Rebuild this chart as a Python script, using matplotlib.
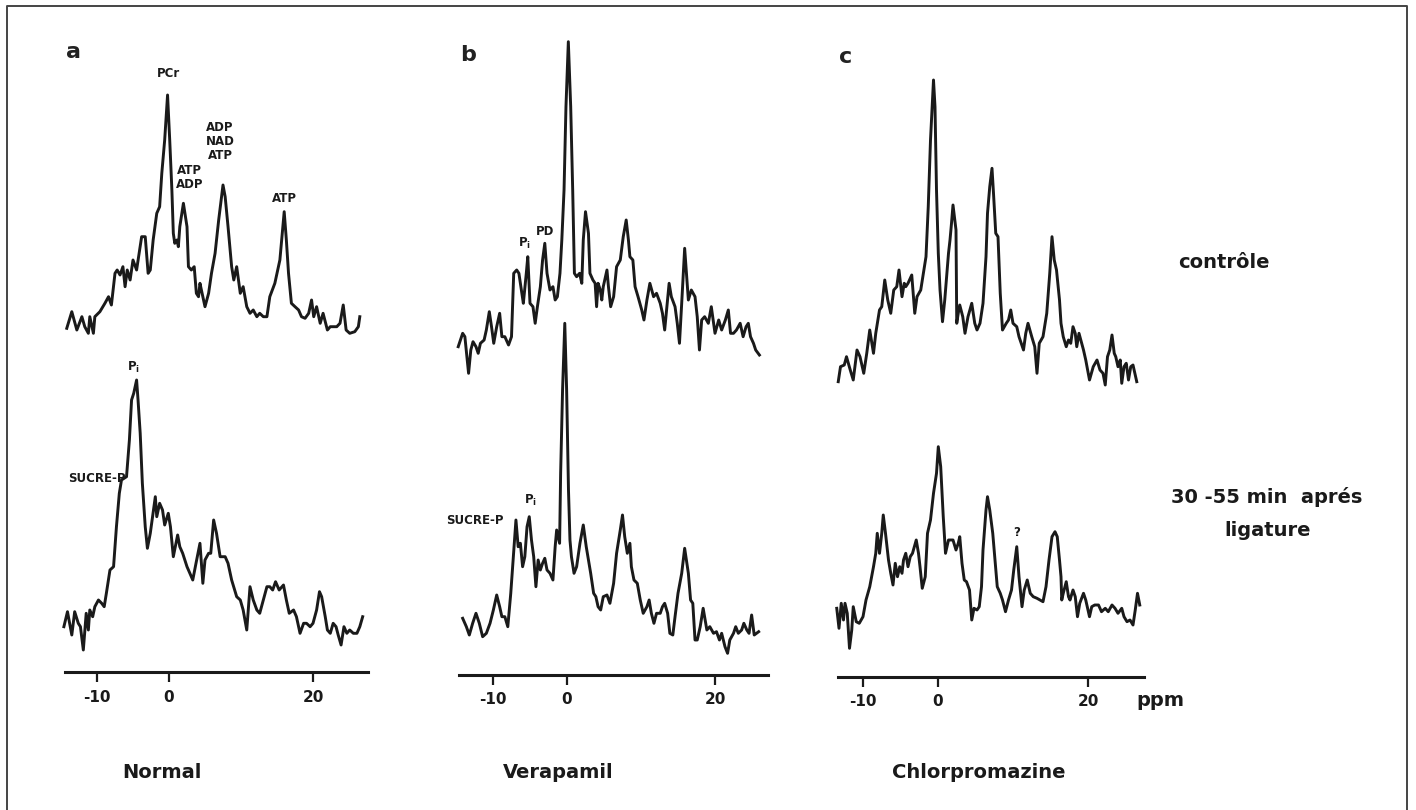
import matplotlib
matplotlib.use("Agg")
import matplotlib.pyplot as plt
from matplotlib.lines import Line2D

# ---- spectra: chemical shift (ppm) and relative intensity ----
a_ctrl_ppm = [-14.2, -13.5, -12.8, -12.1, -11.7, -11.2, -11.0, -10.5, -10.3, -9.6, -8.9, -8.4, -8.0,
              -7.5, -7.2, -6.8, -6.4, -6.1, -5.8, -5.4, -5.0, -4.5, -3.8, -3.3, -2.9, -2.6, -2.2,
              -1.7, -1.3, -1.0, -0.6, -0.2, 0.1, 0.4, 0.6, 0.8, 1.1, 1.3, 1.5, 2.0, 2.5, 2.7, 3.1,
              3.5, 3.8, 4.1, 4.3, 4.5, 5.0, 5.5, 5.9, 6.4, 6.9, 7.5, 7.8, 8.2, 8.7, 9.0, 9.4, 9.9,
              10.3, 10.8, 11.25, 11.7, 12.2, 12.6, 13.1, 13.6, 14.0, 14.7, 15.4, 16.0, 16.3, 16.6,
              17.0, 17.5, 18.0, 18.4, 18.9, 19.4, 19.8, 20.1, 20.5, 21.0, 21.4, 22.0, 22.4, 22.8,
              23.3, 23.75, 24.2, 24.6, 25.1, 25.8, 26.3, 26.5]
a_ctrl_int = [0.67, 2.33, 0.5, 1.83, 0.83, 0.17, 1.83, 0.17, 1.83, 2.33, 3.17, 3.83, 3.0,
              6.17, 6.5, 6.0, 6.83, 4.83, 6.5, 5.5, 7.5, 6.5, 9.83, 9.83, 6.17, 6.5, 9.5,
              12.17, 12.83, 16.17, 19.5, 24.0, 19.5, 14.5, 10.17, 9.17, 9.5, 8.83, 10.83, 13.17, 10.83, 6.83, 6.5,
              6.83, 4.17, 3.83, 5.17, 4.5, 2.83, 4.17, 6.17, 8.17, 11.5, 15.0, 13.83, 10.83, 6.83, 5.5, 6.83, 4.17,
              4.83, 2.83, 2.17, 2.5, 1.83, 2.17, 1.83, 1.83, 3.83, 5.17, 7.5, 12.33, 9.5, 6.17,
              3.17, 2.83, 2.5, 1.83, 1.67, 2.17, 3.5, 1.83, 2.83, 1.17, 2.17, 0.5, 0.83, 0.83,
              0.83, 1.17, 3.0, 0.5, 0.17, 0.33, 0.83, 1.83]

a_lig_ppm = [-14.6, -14.1, -13.5, -13.1, -12.6, -12.3, -11.9, -11.5, -11.2, -11.0, -10.6, -10.3, -9.8,
             -9.35, -9.0, -8.7, -8.2, -7.7, -7.3, -6.9, -6.6, -5.9, -5.5, -5.2, -4.9, -4.5, -4.3,
             -4.0, -3.7, -3.3, -3.0, -2.6, -1.9, -1.7, -1.3, -0.9, -0.6, -0.1, 0.2, 0.6, 1.2, 1.5,
             1.9, 2.5, 2.9, 3.3, 3.75, 4.3, 4.7, 5.0, 5.5, 5.8, 6.2, 6.6, 7.1, 7.8, 8.2, 8.7, 9.4,
             9.9, 10.3, 10.8, 11.25, 11.7, 12.2, 12.6, 13.1, 13.6, 14.0, 14.4, 14.8, 15.3, 15.9,
             16.3, 16.7, 17.3, 17.7, 18.2, 18.7, 19.1, 19.6, 20.0, 20.5, 20.9, 21.2, 21.7, 22.0,
             22.4, 22.8, 23.2, 23.5, 23.9, 24.3, 24.7, 25.1, 25.6, 26.1, 26.5, 26.9]
a_lig_int = [2.33, 3.83, 1.5, 3.83, 2.67, 2.33, 0.0, 3.67, 2.0, 4.0, 3.33, 4.33, 5.0,
             4.67, 4.33, 5.67, 8.0, 8.33, 12.33, 15.67, 17.0, 17.33, 21.0, 25.0, 25.67, 27.0, 25.0,
             21.67, 16.67, 12.33, 10.17, 11.67, 15.33, 13.33, 14.67, 14.0, 12.5, 13.67, 12.33, 9.33, 11.5, 10.33,
             9.67, 8.33, 7.67, 7.0, 8.67, 10.67, 6.67, 9.0, 9.67, 9.67, 13.0, 11.67, 9.33, 9.33, 8.67, 7.0, 5.33,
             5.0, 4.0, 2.0, 6.33, 5.0, 4.0, 3.67, 5.0, 6.33, 6.33, 6.0, 6.83, 6.0, 6.5,
             5.0, 3.67, 4.0, 3.33, 1.67, 2.67, 2.67, 2.33, 2.67, 4.0, 5.83, 5.33, 3.33, 2.0,
             1.67, 2.67, 2.33, 1.5, 0.5, 2.33, 1.67, 2.0, 1.67, 1.67, 2.33, 3.33]

b_ctrl_ppm = [-14.7, -14.1, -13.8, -13.3, -13.0, -12.7, -12.3, -12.0, -11.7, -11.2, -10.9, -10.5, -10.2,
              -9.9, -9.5, -9.1, -8.8, -8.4, -7.9, -7.5, -7.2, -6.8, -6.5, -6.1, -5.9, -5.5, -5.3,
              -5.0, -4.6, -4.3, -4.0, -3.6, -3.3, -3.0, -2.7, -2.3, -1.9, -1.6, -1.3, -0.95, -0.7,
              -0.4, -0.14, 0.18, 0.5, 0.77, 1.0, 1.3, 1.7, 2.0, 2.2, 2.5, 2.9, 3.1, 3.5, 3.8, 4.0,
              4.2, 4.5, 4.7, 4.9, 5.4, 5.6, 5.9, 6.3, 6.7, 7.2, 7.6, 8.0, 8.3, 8.5, 8.9, 9.2, 9.6,
              10.1, 10.4, 10.8, 11.2, 11.7, 12.1, 12.6, 12.9, 13.2, 13.8, 14.1, 14.6, 14.9, 15.2,
              15.5, 15.9, 16.4, 16.8, 17.3, 17.6, 17.9, 18.2, 18.6, 19.1, 19.5, 20.0, 20.5, 20.9,
              21.4, 21.8, 22.1, 22.5, 22.9, 23.4, 23.8, 24.2, 24.5, 24.8, 25.2, 25.5, 26.0]
b_ctrl_int = [-0.17, 1.17, 0.83, -2.83, -0.5, 0.33, -0.17, -0.83, 0.17, 0.5, 1.5, 3.33, 1.83,
              0.17, 1.83, 3.17, 0.83, 0.83, 0.0, 0.83, 7.17, 7.5, 7.17, 5.17, 4.17, 7.17, 8.83,
              4.17, 3.83, 2.17, 3.83, 5.83, 8.5, 10.17, 7.17, 5.5, 5.83, 4.5, 4.83, 7.17, 10.5,
              15.5, 23.83, 30.33, 23.83, 15.5, 7.17, 6.83, 7.17, 6.17, 10.5, 13.33, 11.17, 7.17, 6.5, 6.17, 3.83,
              6.17, 5.5, 4.5, 5.83, 7.5, 5.83, 3.83, 4.83, 7.83, 8.5, 10.83, 12.5, 10.5, 8.83, 8.5, 5.83, 4.83,
              3.5, 2.5, 4.5, 6.17, 4.83, 5.17, 4.17, 3.17, 1.5, 6.17, 4.83, 3.83, 2.17, 0.17,
              4.17, 9.67, 4.5, 5.5, 4.83, 2.83, -0.5, 2.5, 2.83, 2.17, 3.83, 1.17, 2.5, 1.5,
              2.5, 3.5, 1.17, 1.17, 1.5, 2.17, 0.83, 1.83, 2.17, 0.83, 0.17, -0.5, -1.0]

b_lig_ppm = [-14.1, -13.6, -13.2, -12.75, -12.3, -11.85, -11.4, -10.9, -10.4, -9.95, -9.5, -9.1, -8.8,
             -8.4, -8.0, -7.6, -7.25, -6.9, -6.6, -6.3, -6.0, -5.7, -5.4, -5.1, -4.8, -4.5, -4.2,
             -3.9, -3.6, -3.3, -3.0, -2.7, -2.3, -1.9, -1.6, -1.4, -1.0, -0.86, -0.6, -0.3, -0.05,
             0.2, 0.4, 0.6, 0.95, 1.3, 1.75, 2.2, 2.6, 2.9, 3.2, 3.6, 3.9, 4.2, 4.55, 4.9, 5.4,
             5.8, 6.3, 6.7, 7.2, 7.5, 7.8, 8.15, 8.5, 8.7, 9.05, 9.5, 9.9, 10.3, 10.8, 11.1, 11.4,
             11.75, 12.1, 12.6, 12.9, 13.2, 13.6, 13.9, 14.3, 14.6, 15.0, 15.5, 15.9, 16.4, 16.7,
             17.0, 17.3, 17.6, 18.0, 18.4, 18.9, 19.3, 19.8, 20.2, 20.6, 20.9, 21.35, 21.7, 22.0,
             22.5, 22.8, 23.15, 23.6, 23.9, 24.3, 24.6, 24.95, 25.3, 25.9]
b_lig_int = [2.17, 1.33, 0.5, 1.67, 2.67, 1.67, 0.33, 0.67, 1.67, 3.0, 4.5, 3.33, 2.33,
             2.33, 1.33, 4.67, 8.33, 12.0, 9.33, 9.67, 7.33, 8.33, 11.33, 12.33, 10.0, 8.33, 5.33,
             8.0, 7.0, 7.67, 8.17, 7.0, 6.67, 6.0, 9.33, 11.0, 9.67, 16.67, 25.0, 31.67, 25.0,
             15.0, 10.0, 8.33, 6.67, 7.33, 9.67, 11.5, 9.33, 8.0, 6.67, 4.67, 4.33, 3.33, 3.0, 4.33, 4.5,
             3.67, 5.67, 8.67, 11.0, 12.5, 10.33, 8.67, 9.67, 7.33, 6.0, 5.67, 4.0, 2.67, 3.33, 4.0, 2.67,
             1.67, 2.67, 2.67, 3.33, 3.67, 2.67, 0.67, 0.5, 2.33, 4.67, 6.67, 9.17, 6.67, 4.0,
             3.67, 0.0, 0.0, 1.33, 3.17, 1.0, 1.33, 0.67, 0.83, 0.0, 0.67, -0.67, -1.33, 0.0,
             0.67, 1.33, 0.67, 1.0, 1.67, 1.0, 0.67, 2.5, 0.5, 0.83]

c_ctrl_ppm = [-13.3, -13.0, -12.5, -12.2, -11.7, -11.3, -10.8, -10.4, -9.9, -9.5, -9.1, -8.6, -8.3,
              -7.8, -7.5, -7.1, -6.7, -6.3, -5.9, -5.5, -5.2, -4.8, -4.5, -4.3, -4.0, -3.5, -3.1,
              -2.8, -2.3, -1.95, -1.6, -1.3, -1.0, -0.6, -0.4, -0.2, 0.04, 0.27, 0.6, 0.9, 1.4,
              1.6, 1.8, 2.0, 2.4, 2.5, 2.7, 2.9, 3.3, 3.6, 4.0, 4.5, 4.9, 5.2, 5.6, 6.0, 6.4, 6.6,
              6.9, 7.2, 7.4, 7.7, 8.0, 8.3, 8.6, 9.1, 9.4, 9.7, 10.0, 10.5, 10.8, 11.4, 11.7, 12.0,
              12.5, 12.9, 13.2, 13.5, 14.0, 14.5, 14.9, 15.2, 15.5, 15.8, 16.2, 16.4, 16.7, 17.1,
              17.4, 17.7, 18.0, 18.3, 18.5, 18.8, 19.4, 19.7, 20.2, 20.7, 21.2, 21.6, 22.0, 22.3,
              22.6, 22.9, 23.2, 23.5, 23.7, 24.0, 24.3, 24.5, 24.8, 25.1, 25.4, 25.7, 26.0, 26.5]
c_ctrl_int = [-0.17, 1.33, 1.5, 2.33, 1.0, 0.0, 3.0, 2.33, 0.67, 2.67, 5.0, 2.67, 4.67,
              7.0, 7.33, 10.0, 8.0, 6.67, 9.0, 9.33, 11.0, 8.33, 9.67, 9.33, 9.67, 10.5, 6.67,
              8.33, 9.0, 10.67, 12.33, 17.33, 24.0, 30.0, 27.33, 19.0, 12.67, 9.0, 5.83, 8.0, 12.67,
              14.0, 15.67, 17.5, 15.0, 5.67, 6.67, 7.5, 6.33, 4.67, 6.33, 7.67, 5.67, 5.0, 5.67, 7.67, 12.33, 16.67,
              19.33, 21.17, 18.67, 14.67, 14.33, 8.67, 5.0, 5.67, 6.0, 7.0, 5.67, 5.33, 4.33, 3.0, 4.67, 5.67,
              4.33, 3.33, 0.67, 3.67, 4.33, 6.67, 10.67, 14.33, 12.0, 11.0, 8.0, 5.67, 4.33, 3.33,
              4.0, 3.67, 5.33, 4.67, 3.33, 4.67, 3.0, 2.0, 0.0, 1.33, 2.0, 1.0, 0.67, -0.5,
              2.33, 3.0, 4.5, 2.67, 2.33, 1.33, 2.0, -0.33, 1.33, 1.67, 0.0, 1.33, 1.5, -0.17]

c_lig_ppm = [-13.5, -13.2, -12.9, -12.6, -12.4, -12.1, -11.8, -11.5, -11.3, -10.9, -10.5, -10.0, -9.6,
             -9.1, -8.6, -8.3, -8.1, -7.8, -7.5, -7.3, -7.0, -6.6, -6.3, -6.0, -5.7, -5.4, -5.1,
             -4.8, -4.6, -4.3, -4.0, -3.7, -3.4, -2.9, -2.6, -2.4, -2.1, -1.7, -1.4, -1.0, -0.6,
             -0.2, 0.04, 0.36, 0.7, 1.0, 1.4, 1.7, 2.0, 2.4, 2.7, 2.9, 3.2, 3.5, 3.8, 4.2, 4.5,
             4.8, 5.2, 5.5, 5.8, 6.0, 6.4, 6.6, 6.9, 7.3, 7.6, 7.9, 8.3, 8.6, 9.0, 9.4, 9.8, 10.1,
             10.5, 10.8, 11.2, 11.5, 11.9, 12.3, 12.7, 13.2, 13.6, 14.0, 14.4, 14.8, 15.2, 15.6,
             15.9, 16.2, 16.4, 16.5, 16.7, 17.1, 17.4, 17.6, 18.0, 18.3, 18.6, 18.9, 19.4, 19.7,
             20.2, 20.5, 20.9, 21.4, 21.8, 22.3, 22.7, 23.2, 23.6, 24.0, 24.5, 24.8, 25.2, 25.6,
             26.0, 26.3, 26.6, 26.9]
c_lig_int = [1.17, -0.83, 1.67, 0.0, 1.67, 0.67, -2.83, -1.0, 1.33, -0.17, -0.33, 0.33, 2.0,
             3.33, 5.33, 6.67, 8.67, 6.67, 8.67, 10.5, 8.67, 6.0, 4.67, 3.5, 5.67, 4.33, 5.33,
             4.67, 6.0, 6.67, 5.33, 6.33, 6.67, 8.0, 6.67, 5.33, 3.17, 4.33, 8.67, 10.0, 12.67,
             14.67, 17.33, 15.33, 10.33, 6.67, 8.0, 8.0, 8.0, 7.0, 7.67, 8.33, 5.67, 4.0, 3.83, 3.0, 0.0,
             1.17, 1.0, 1.33, 3.33, 7.0, 11.0, 12.33, 11.0, 8.67, 6.0, 3.33, 2.67, 2.0, 0.83, 2.0, 3.0, 5.0,
             7.33, 4.33, 1.33, 3.0, 4.0, 2.67, 2.33, 2.17, 2.0, 1.83, 3.33, 6.0, 8.33, 8.83,
             8.33, 6.0, 4.33, 2.0, 2.67, 3.83, 2.33, 2.0, 3.0, 2.33, 0.33, 1.67, 2.67, 2.0,
             0.33, 1.33, 1.5, 1.5, 0.83, 1.17, 0.83, 1.5, 1.17, 0.67, 1.17, 0.33, -0.17, 0.0,
             -0.5, 1.0, 2.67, 1.5]

tick_vals = [-10, 0, 20]
tick_labels = ["-10", "0", "20"]
panel_letters = ["a", "b", "c"]
drug_names = ["Normal", "Verapamil", "Chlorpromazine"]

W, H = 1416, 810
fig = plt.figure(figsize=(W / 100, H / 100), dpi=100)
fig.patch.set_facecolor("white")

narrow = ["DejaVu Sans Condensed", "Liberation Sans Narrow", "DejaVu Sans"]
ink = "#1a1a1a"

# layout per panel: ppm zero pixel, px per ppm, axis line pixel, axis span, trace offsets
panels = [
    dict(zero=169, sx=7.2, axis=672, span=(-14.4, 27.6), top=33.7, bot=2.2, pad=6,
         ctrl=(a_ctrl_ppm, a_ctrl_int), lig=(a_lig_ppm, a_lig_int)),
    dict(zero=567, sx=7.4, axis=675, span=(-14.6, 27.2), top=33.0, bot=3.5, pad=5,
         ctrl=(b_ctrl_ppm, b_ctrl_int), lig=(b_lig_ppm, b_lig_int)),
    dict(zero=938, sx=7.5, axis=677, span=(-13.3, 27.5), top=29.7, bot=5.7, pad=5,
         ctrl=(c_ctrl_ppm, c_ctrl_int), lig=(c_lig_ppm, c_lig_int)),
]

axes = []
y_top_px, y_bot_px = 20, 720
for p in panels:
    x0 = p["span"][0] - 1.5
    x1 = p["span"][1] + 1.5
    px0 = p["zero"] + p["sx"] * x0
    px1 = p["zero"] + p["sx"] * x1
    ax = fig.add_axes([px0 / W, (H - y_bot_px) / H, (px1 - px0) / W, (y_bot_px - y_top_px) / H])
    ax.set_xlim(x0, x1)
    ax.set_ylim((p["axis"] - y_bot_px) / 10, (p["axis"] - y_top_px) / 10)
    ax.patch.set_visible(False)

    ppm, inten = p["ctrl"]
    ax.plot(ppm, [v + p["top"] for v in inten], color=ink, lw=2.1, solid_joinstyle="round")
    ppm, inten = p["lig"]
    ax.plot(ppm, [v + p["bot"] for v in inten], color=ink, lw=2.1, solid_joinstyle="round")

    for side in ["top", "right", "left"]:
        ax.spines[side].set_visible(False)
    ax.spines["bottom"].set_position(("data", 0))
    ax.spines["bottom"].set_bounds(p["span"][0], p["span"][1])
    ax.spines["bottom"].set_linewidth(2.2)
    ax.spines["bottom"].set_color(ink)
    ax.set_yticks([])
    ax.set_xticks(tick_vals)
    ax.set_xticklabels(tick_labels, family=narrow, fontweight="bold", fontsize=11)
    ax.tick_params(axis="x", direction="out", length=7, width=1.6, pad=p["pad"], colors=ink)
    axes.append(ax)

ax_a, ax_b, ax_c = axes
lab = dict(fontweight="bold", fontsize=8.5, color=ink, ha="center", va="center")

# panel letters
for ax, p, letter in zip(axes, panels, panel_letters):
    ax.text(p["span"][0] + 0.1, 62.0, letter,
            fontsize=16, fontweight="heavy", color="#222222", ha="left", va="center")

# annotations panel a
ax_a.text(0.0, 59.9, "PCr", **lab)
ax_a.text(2.9, 49.5, "ATP\nADP", linespacing=1.1, **lab)
ax_a.text(7.1, 53.1, "ADP\nNAD\nATP", linespacing=1.1, **lab)
ax_a.text(16.0, 47.4, "ATP", **lab)
ax_a.text(-4.9, 30.5, "P$_\\mathbf{i}$", **lab)
ax_a.text(-6.0, 19.4, "SUCRE-P", fontweight="bold", fontsize=8.5, color=ink, ha="right", va="center")

# annotations panel b
ax_b.text(-5.8, 43.2, "P$_\\mathbf{i}$", **lab)
ax_b.text(-3.0, 44.4, "PD", **lab)
ax_b.text(-8.5, 15.5, "SUCRE-P", fontweight="bold", fontsize=8.5, color=ink, ha="right", va="center")
ax_b.text(-5.0, 17.5, "P$_\\mathbf{i}$", **lab)

# annotation panel c
ax_c.text(10.5, 14.5, "?", **lab)

# figure-level labels
big = dict(family=narrow, fontweight="bold", fontsize=14, color=ink, ha="center", va="center")
fig.text(1224 / W, 1 - 262 / H, "contrôle", **big)
fig.text(1267 / W, 1 - 497 / H, "30 -55 min  aprés", **big)
fig.text(1268 / W, 1 - 530 / H, "ligature", **big)
fig.text(1160 / W, 1 - 701 / H, "ppm", **big)
for name, xc in zip(drug_names, [162, 558, 979]):
    fig.text(xc / W, 1 - 773 / H, name, **big)

# frame (left, top, right; open at the bottom)
fx = [7 / W, 7 / W, 1407 / W, 1407 / W]
fy = [0.0, 1 - 6 / H, 1 - 6 / H, 0.0]
fig.add_artist(Line2D(fx, fy, transform=fig.transFigure, lw=1.4, color="#444444"))

fig.savefig("out.png", dpi=100)
